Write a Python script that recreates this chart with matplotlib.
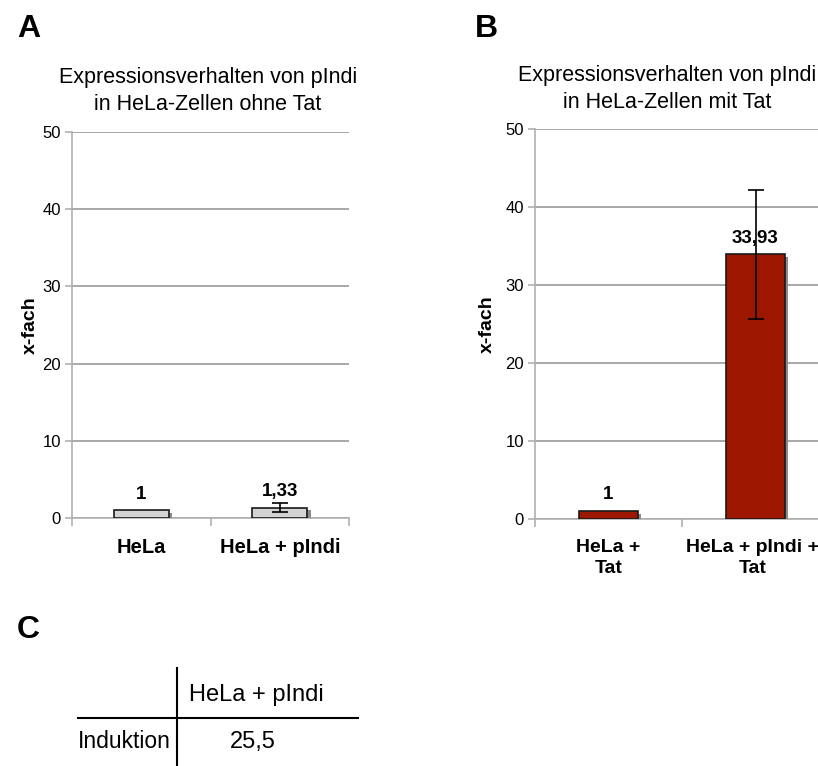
import matplotlib
matplotlib.use("Agg")
import matplotlib.pyplot as plt
import matplotlib.patheffects as pe
import matplotlib.transforms as mtransforms
import numpy as np

plt.rcParams['font.family'] = ['Liberation Sans', 'DejaVu Sans']

# ---- data ----
cats_a = ["HeLa", "HeLa + pIndi"]
vals_a = [1.0, 1.33]
err_a = [0.0, 0.58]
labels_a = ["1", "1,33"]
title_a = ["Expressionsverhalten von pIndi", "in HeLa-Zellen ohne Tat"]

cats_b = ["HeLa +\nTat", "HeLa + pIndi +\nTat"]
vals_b = [1.0, 33.93]
err_b = [0.0, 8.25]
labels_b = ["1", "33,93"]
title_b = ["Expressionsverhalten von pIndi", "in HeLa-Zellen mit Tat"]

yticks = [0, 10, 20, 30, 40, 50]
table_col = "HeLa + pIndi"
table_row = "Induktion"
table_val = "25,5"

W, H = 818, 766
fig = plt.figure(figsize=(W / 100, H / 100), dpi=100)


def px_axes(x0, y0, x1, y1):
    return fig.add_axes([x0 / W, 1 - y1 / H, (x1 - x0) / W, (y1 - y0) / H])


def draw_panel(ax, cats, vals, errs, labels, color, ylab_x, lab_fs, lab_dx):
    x = np.arange(len(cats))
    bars = ax.bar(x, vals, width=0.40, color=color, edgecolor="#1a1a1a",
                  linewidth=1.2, zorder=3)
    for b in bars:
        b.set_path_effects([pe.SimplePatchShadow(offset=(2.2, -1.8),
                                                 shadow_rgbFace="#8a8a8a", alpha=1.0),
                            pe.Normal()])
    for xi, v, e, lab in zip(x, vals, errs, labels):
        if e > 0:
            ax.errorbar(xi, v, yerr=e, fmt="none", ecolor="black",
                        elinewidth=1.2, capsize=6, capthick=1.2, zorder=4)
        ax.text(xi, v + 1.0, lab, ha="center", va="bottom",
                fontsize=13.5, fontweight="bold", zorder=5)
    ax.set_ylim(0, 50)
    ax.set_xlim(-0.5, len(cats) - 0.5)
    ax.set_yticks(yticks)
    ax.set_yticklabels([str(t) for t in yticks], fontsize=12)
    ax.yaxis.grid(True, color="#9a9a9a", linewidth=1.2, zorder=0)
    ax.set_axisbelow(True)
    for s in ["top", "right"]:
        ax.spines[s].set_visible(False)
    ax.spines["left"].set_color("#b0b0b0")
    ax.spines["left"].set_linewidth(1.2)
    ax.spines["bottom"].set_color("#b0b0b0")
    ax.spines["bottom"].set_linewidth(1.2)
    ax.tick_params(axis="y", length=5, color="#b0b0b0", width=1.2, pad=3)
    # category ticks at boundaries
    ax.set_xticks(np.arange(-0.5, len(cats), 1.0))
    ax.set_xticklabels([])
    ax.tick_params(axis="x", length=6, color="#b0b0b0", width=1.2)
    for xi, c, dx in zip(x, cats, lab_dx):
        tr = ax.transData + mtransforms.ScaledTranslation(dx / 100, 0, fig.dpi_scale_trans)
        ax.text(xi, -2.6, c, ha="center", va="top", fontsize=lab_fs,
                fontweight="bold", linespacing=1.3, transform=tr)
    ax.set_ylabel("x-fach", fontsize=14, fontweight="bold")
    ax.yaxis.set_label_coords(ylab_x, 0.5)
    return ax


axA = px_axes(72, 132, 349, 518)
draw_panel(axA, cats_a, vals_a, err_a, labels_a, "#d3d3d3", (39 - 72) / 277,
           14.5, [0, 0])
axB = px_axes(535, 129, 829, 519)
draw_panel(axB, cats_b, vals_b, err_b, labels_b, "#9c1600", (496 - 535) / 294,
           14, [0, -3])

for lines, cx, y1, y2 in [(title_a, 208, 77, 104), (title_b, 667, 76, 102)]:
    fig.text(cx / W, 1 - y1 / H, lines[0], ha="center", va="center", fontsize=15.5)
    fig.text(cx / W, 1 - y2 / H, lines[1], ha="center", va="center", fontsize=15.5)

for lab, xx, yy in [("A", 17, 29), ("B", 475, 29), ("C", 17, 630)]:
    fig.text(xx / W, 1 - yy / H, lab, ha="left", va="center", fontsize=23,
             fontweight="bold")

# ---- table C ----
axC = fig.add_axes([0, 0, 1, 1])
axC.set_xlim(0, W)
axC.set_ylim(H, 0)
axC.axis("off")
axC.plot([177, 177], [668, 766], color="black", lw=1.5)
axC.plot([78, 358], [718, 718], color="black", lw=1.5)
axC.text(256, 695, table_col, ha="center", va="center", fontsize=17)
axC.text(124, 742, table_row, ha="center", va="center", fontsize=16.5)
axC.text(253, 742, table_val, ha="center", va="center", fontsize=17)

fig.savefig("out.png", dpi=100)
